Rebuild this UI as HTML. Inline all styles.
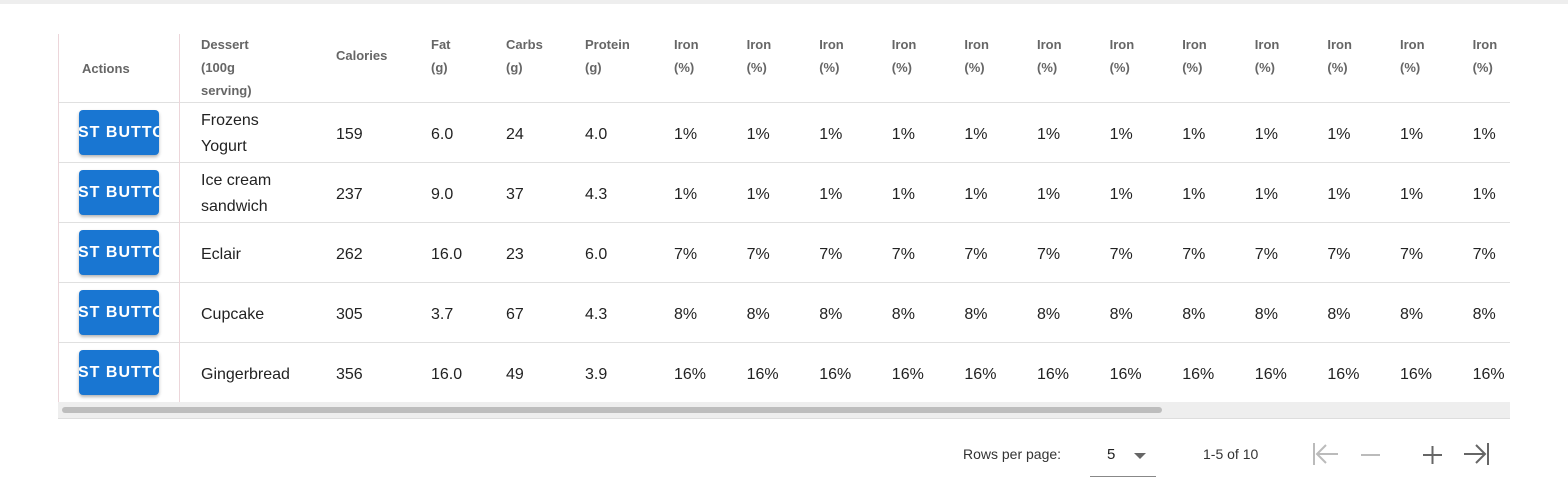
<!DOCTYPE html>
<html><head><meta charset="utf-8"><style>
body{margin:0;width:1568px;height:496px;background:#fff;font-family:"Liberation Sans",sans-serif;position:relative;overflow:hidden}
.a{position:absolute;white-space:nowrap}
.h{font-size:13px;font-weight:bold;color:#666;line-height:23px}
.c{font-size:16px;color:#222;line-height:26px}
.btn{position:absolute;left:79px;width:80px;height:45px;background:#1976d2;border-radius:4px;box-shadow:0 2px 3px rgba(0,0,0,.3);overflow:hidden;color:#fff;font-weight:bold;font-size:16px;letter-spacing:1px;line-height:45px;white-space:nowrap;text-indent:-1px}
.hl{position:absolute;left:58px;width:1452px;height:1px;background:#e0e0e0}
</style></head><body>
<div class="a" style="left:0;top:0;width:1568px;height:4px;background:#eee"></div>
<div id="t"></div>
<div class="a" style="left:58px;top:34px;width:1px;height:384px;background:#ecd6da"></div>
<div class="a" style="left:179px;top:34px;width:1px;height:368px;background:#ecd6da"></div>
<div class="a" style="left:58px;top:402px;width:1452px;height:16px;background:#eee;border-bottom:1px solid #ddd"></div>
<div class="a" style="left:62px;top:407px;width:1100px;height:6px;border-radius:3px;background:#bdbdbd"></div>
<div class="a" style="left:963px;top:446px;font-size:14px;color:#333">Rows per page:</div>
<div class="a" style="left:1090px;top:436px;width:66px;height:40px;border-bottom:1px solid #888">
<span style="position:absolute;left:17px;top:10px;font-size:15px;color:#222">5</span>
<span style="position:absolute;left:44px;top:17px;width:0;height:0;border-left:6px solid transparent;border-right:6px solid transparent;border-top:6px solid #666"></span></div>
<div class="a" style="left:1203px;top:446px;font-size:14px;color:#333">1-5 of 10</div>
<svg class="a" style="left:1300px;top:440px" width="200" height="30">
<g stroke="#bbb" stroke-width="2" fill="none"><line x1="14" y1="3" x2="14" y2="25"/><line x1="17" y1="14" x2="38" y2="14"/><polyline points="26,5 17,14 26,23"/></g>
<g stroke="#bbb" stroke-width="2"><line x1="61" y1="15" x2="80" y2="15"/></g>
<g stroke="#666" stroke-width="2"><line x1="123" y1="15" x2="142" y2="15"/><line x1="132.5" y1="6" x2="132.5" y2="24"/></g>
<g stroke="#666" stroke-width="2" fill="none"><line x1="164" y1="14" x2="185" y2="14"/><polyline points="176,5 185,14 176,23"/><line x1="188" y1="3" x2="188" y2="25"/></g>
</svg>
<script>
const desserts=["Frozens Yogurt","Ice cream sandwich","Eclair","Cupcake","Gingerbread"];
const calories=[159,237,262,305,356];
const fat=["6.0","9.0","16.0","3.7","16.0"];
const carbs=[24,37,23,67,49];
const protein=["4.0","4.3","6.0","4.3","3.9"];
const iron=["1%","1%","7%","8%","16%"];
const headers=[["Dessert","(100g","serving)"],["Calories"],["Fat","(g)"],["Carbs","(g)"],["Protein","(g)"]];
const colX=[201,336,431,506,585];
const t=document.getElementById('t');
function add(cls,x,y,html,name){const d=document.createElement('div');d.className='a '+cls;d.style.left=x+'px';d.style.top=y+'px';d.innerHTML=html;


t.appendChild(d);return d;}
function hdr(lines,x,name){const y=lines.length===1?44:33;add('h',x,y,lines.join('<br>'),name);}
add('h',82,57,'Actions','header-actions');
headers.forEach((h,i)=>hdr(h,colX[i],'header-'+h[0].toLowerCase()));
for(let k=0;k<12;k++)hdr(["Iron","(%)"],674+k*72.6,'header-iron');
for(let r=0;r<=5;r++){const l=document.createElement('div');l.className='hl';l.style.top=(102+r*60)+'px';


t.appendChild(l);}
desserts.forEach((d,r)=>{const top=102+r*60;
const b=document.createElement('div');b.className='btn';b.style.top=(top+8)+'px';b.textContent='ST BUTTON';


t.appendChild(b);
let txt=d;if(d.length>12){const i=d.lastIndexOf(' ');txt=d.slice(0,i)+'<br>'+d.slice(i+1);}
const lines=txt.includes('<br>')?2:1;
add('c',201,top+32-lines*13+(lines===1?1:0),txt,'dessert-name');
const vals=[calories[r],fat[r],carbs[r],protein[r]];
vals.forEach((v,i)=>add('c',colX[i+1],top+20,String(v),'cell-value'));
for(let k=0;k<12;k++)add('c',674+k*72.6,top+20,iron[r],'iron-value');
});
</script>
</body></html>
